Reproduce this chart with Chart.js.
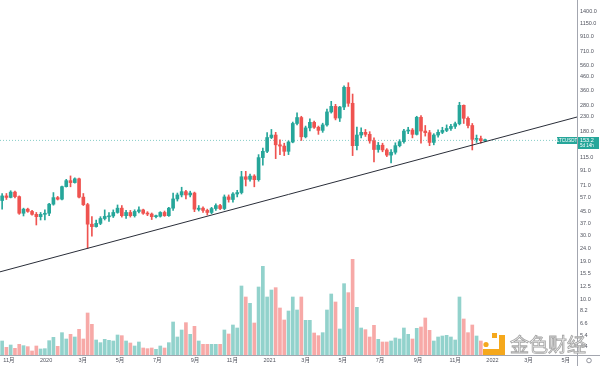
<!DOCTYPE html>
<html>
<head>
<meta charset="utf-8">
<script src="https://cdn.jsdelivr.net/npm/chart.js@4.4.1/dist/chart.umd.min.js"></script>
<style>
  html, body { margin: 0; padding: 0; background: #fff; }
  #wrap { width: 600px; height: 366px; position: relative; }
</style>
</head>
<body>
<div id="wrap"><canvas id="chart"></canvas></div>
<script>
// LTCUSDT 周线，从 2019-10-21 那一周开始
const startDate = '2019-10-21';
const symbol = 'LTCUSDT';
const lastPrice = 153.2;
const countdown = '5d 14h';

const opens = [
  54.5, 59, 57.5, 63, 58.3, 43.8, 47, 45.2, 43, 41.3,
  43, 43.8, 51.2, 57.3, 55.8, 69.2, 76.7, 74.2, 79.2, 57.8,
  50.8, 36.3, 34.8, 36.8, 40, 41.2, 41.8, 44.4, 47.8, 42,
  44.4, 42, 45.2, 46.4, 43.8, 43.2, 41.3, 41.6, 44.4, 42,
  47.8, 56, 60, 63.5, 60, 62, 46.8, 47.8, 46, 44.4,
  47.5, 50, 47.5, 58, 55.5, 61, 62.5, 82, 78.5, 83,
  78, 114, 127, 161, 168, 142, 139, 127, 149, 205,
  227, 163, 190, 209, 192, 182, 200, 250, 275, 225,
  272, 382, 290, 140, 168, 176, 170, 152, 131, 141,
  130, 119, 125, 140, 150, 180, 183, 170, 228, 180,
  175, 148, 168, 176, 182, 188, 195, 204, 280, 224,
  198, 156, 158, 152.5
];
const highs = [
  61.5, 61.5, 64.5, 64, 59, 47.8, 47.8, 46, 44.4, 44.4,
  46.4, 52, 62.5, 58.5, 70, 78.5, 83.2, 80.5, 80, 61.5,
  52, 41.3, 39, 41.3, 46.4, 44.4, 46.4, 50.5, 50, 46,
  46, 46.5, 49, 47, 45, 44, 42.5, 45, 45.5, 48.5,
  62, 62, 68.5, 65, 64, 63, 50, 49, 47, 48.5,
  51.5, 51, 60, 60, 62.5, 65, 90, 90, 86, 85,
  120, 134, 175, 185, 176, 155, 146, 152, 210, 246,
  232, 196, 222, 214, 196, 206, 262, 300, 285, 275,
  392, 413, 340, 193, 190, 185, 178, 160, 148, 146,
  133, 131, 147, 155, 185, 192, 188, 232, 235, 198,
  182, 172, 184, 192, 200, 202, 210, 295, 282, 230,
  205, 168, 165, 157
];
const lows = [
  47, 55.5, 57, 57, 43, 41.8, 44.5, 42.3, 35.8, 39,
  39, 42, 50.3, 55, 55, 68.7, 69, 73.5, 57, 50,
  24, 29.5, 34.5, 36, 39, 38, 40.7, 43.8, 41, 40,
  41, 41, 44, 43, 42, 39.3, 40.5, 41, 41.5, 41.5,
  46, 54, 58, 56, 58, 45, 45.5, 44.5, 42.5, 43.5,
  46, 46.5, 46.5, 53, 53, 58, 61, 70, 76, 69,
  76, 100, 124, 158, 112, 120, 118, 120, 147, 200,
  153, 160, 180, 188, 170, 176, 196, 245, 218, 212,
  260, 275, 118, 130, 160, 164, 146, 106, 125, 126,
  116, 104, 121, 137, 146, 172, 160, 168, 146, 165,
  140, 142, 162, 172, 178, 182, 188, 200, 205, 190,
  130, 148, 146, 150
];
const closes = [
  59, 57.5, 63, 58.3, 43.8, 47, 45.2, 43, 41.3, 43,
  43.8, 51.2, 57.3, 55.8, 69.2, 76.7, 74.2, 79.2, 57.8, 50.8,
  36.3, 34.8, 36.8, 40, 41.5, 41.8, 44.4, 47.8, 42, 44.4,
  42, 45.2, 46.4, 43.8, 43.2, 41.3, 41.6, 44.4, 42, 47.8,
  56, 60, 63.5, 60, 62, 47, 47.8, 46, 44.4, 47.5,
  50, 47.5, 58, 55.5, 61, 62.5, 82, 78.5, 83, 78,
  114, 127, 161, 168, 142, 139, 127, 149, 205, 227,
  163, 190, 209, 192, 182, 200, 250, 275, 225, 272,
  382, 290, 140, 168, 176, 170, 152, 131, 141, 130,
  119, 125, 140, 150, 180, 183, 170, 228, 180, 175,
  148, 168, 176, 182, 188, 195, 204, 280, 224, 198,
  156, 158, 152.5, 153.2
];
// 成交量（百万）
const volumes = [
  4.2, 2.3, 3.0, 2.0, 3.2, 2.8, 2.5, 1.2, 2.7, 1.8,
  1.9, 4.3, 5.3, 2.6, 6.7, 4.8, 6.2, 5.4, 7.7, 4.8,
  12.6, 9.2, 4.5, 3.7, 4.7, 4.4, 4.2, 6.0, 5.8, 4.2,
  3.6, 2.7, 3.9, 2.1, 1.9, 2.1, 1.7, 2.7, 2.1, 3.7,
  9.9, 5.4, 7.5, 9.7, 6.2, 8.6, 4.2, 3.2, 3.2, 3.2,
  3.2, 3.2, 7.5, 6.3, 9.0, 8.1, 20.7, 17.4, 15.5, 9.6,
  20.4, 26.6, 17.4, 19.5, 20.2, 14.1, 10.5, 13.2, 17.4, 13.5,
  17.4, 10.4, 10.4, 6.6, 5.8, 6.7, 13.5, 18.3, 15.9, 7.8,
  21.4, 18.7, 28.7, 14.3, 8.1, 7.6, 5.4, 8.9, 4.7, 3.9,
  3.9, 4.2, 5.1, 4.8, 8.1, 6.2, 4.8, 8.0, 8.4, 11.1,
  7.4, 4.2, 5.4, 5.7, 5.9, 5.4, 4.5, 17.4, 10.8, 6.7,
  9.0, 5.7, 4.2, 0.8
];

// 趋势线两端（周序号，价格）
const trendWeeks = [-0.5, 134.5];
const trendPrices = [16.0, 229];

const xTickDates = ['2019-11-01', '2020-01-01', '2020-03-01', '2020-05-01', '2020-07-01', '2020-09-01',
  '2020-11-01', '2021-01-01', '2021-03-01', '2021-05-01', '2021-07-01', '2021-09-01',
  '2021-11-01', '2022-01-01', '2022-03-01', '2022-05-01'];
const xTickLabels = ['11月', '2020', '3月', '5月', '7月', '9月', '11月', '2021', '3月', '5月', '7月', '9月', '11月', '2022', '3月', '5月'];
const yTickValues = [1400, 1150, 910, 710, 560, 460, 360, 280, 230, 180, 145, 115, 91, 71, 57, 45, 37, 30, 24, 19, 15.5, 12.5, 10, 8.2, 6.6, 5.4, 4.4];

const weekOf = d => (Date.parse(d) - Date.parse(startDate)) / (7 * 864e5);
const xTickWeeks = xTickDates.map(weekOf);

const idx = opens.map((_, i) => i);
const up = idx.map(i => closes[i] >= opens[i]);
const candleColor = idx.map(i => up[i] ? '#26a69a' : '#ef5350');
const volColor = idx.map(i => up[i] ? 'rgba(38,166,154,0.5)' : 'rgba(239,83,80,0.5)');

const xMin = -0.5, xMax = 134.5;

const overlay = {
  id: 'overlay',
  afterDraw(chart) {
    const { ctx, chartArea: a, scales: { y } } = chart;
    ctx.save();
    // 坐标轴分隔线
    ctx.strokeStyle = '#a3a6af';
    ctx.lineWidth = 1;
    ctx.beginPath();
    ctx.moveTo(a.right + 0.5, 0); ctx.lineTo(a.right + 0.5, chart.height);
    ctx.moveTo(0, a.bottom + 0.5); ctx.lineTo(chart.width, a.bottom + 0.5);
    ctx.stroke();

    // 最新价标签
    const py = Math.round(y.getPixelForValue(lastPrice));
    ctx.fillStyle = '#26a69a';
    ctx.fillRect(a.right - 20, py - 3, 20, 7);
    ctx.fillRect(a.right + 1, py - 3, 21, 12);
    ctx.fillStyle = '#fff';
    ctx.textBaseline = 'middle';
    ctx.textAlign = 'center';
    ctx.font = '4.5px "Liberation Sans"';
    ctx.fillText(symbol, a.right - 10, py + 0.5);
    ctx.textAlign = 'left';
    ctx.font = '5.5px "Liberation Sans"';
    ctx.fillText(lastPrice.toFixed(1), a.right + 3, py + 0.5);
    ctx.font = '4.5px "Liberation Sans"';
    ctx.fillText(countdown, a.right + 3, py + 6);

    // 设置图标
    ctx.strokeStyle = '#787b86';
    ctx.lineWidth = 0.8;
    ctx.beginPath();
    ctx.arc(589, 360.5, 2.3, 0, Math.PI * 2);
    ctx.stroke();

    // 水印
    ctx.fillStyle = '#f5a81c';
    ctx.fillRect(492, 333, 5, 5);
    ctx.beginPath(); ctx.arc(486, 344.5, 2.6, 0, Math.PI * 2); ctx.fill();
    ctx.fillRect(499, 335, 6, 20);
    ctx.fillRect(483, 349, 22, 6);
    ctx.font = '19px "Noto Sans CJK SC"';
    ctx.textAlign = 'left';
    ctx.textBaseline = 'middle';
    ctx.lineWidth = 0.9;
    ctx.fillStyle = 'rgba(255,255,255,0.85)';
    ctx.strokeStyle = 'rgba(150,150,150,0.85)';
    ctx.fillText('金色财经', 510, 345);
    ctx.strokeText('金色财经', 510, 345);
    ctx.restore();
  }
};

new Chart(document.getElementById('chart'), {
  type: 'bar',
  data: {
    datasets: [
      {
        type: 'line',
        data: trendWeeks.map((w, i) => ({ x: w, y: trendPrices[i] })),
        borderColor: '#2a2e39',
        borderWidth: 1,
        pointRadius: 0,
        yAxisID: 'y',
        order: 0
      },
      {
        data: idx.map(i => ({ x: i, y: [opens[i], closes[i]] })),
        backgroundColor: candleColor,
        barThickness: 3,
        minBarLength: 1,
        grouped: false,
        yAxisID: 'y',
        order: 1
      },
      {
        data: idx.map(i => ({ x: i, y: [lows[i], highs[i]] })),
        backgroundColor: candleColor,
        barThickness: 1,
        grouped: false,
        yAxisID: 'y',
        order: 2
      },
      {
        type: 'line',
        data: [{ x: xMin, y: lastPrice }, { x: xMax, y: lastPrice }],
        borderColor: 'rgba(38,166,154,0.55)',
        borderWidth: 1,
        borderDash: [1, 2],
        pointRadius: 0,
        yAxisID: 'y',
        order: 3
      },
      {
        data: idx.map(i => ({ x: i, y: volumes[i] })),
        backgroundColor: volColor,
        barThickness: 3,
        grouped: false,
        yAxisID: 'yv',
        order: 4
      }
    ]
  },
  options: {
    responsive: true,
    maintainAspectRatio: false,
    animation: false,
    layout: { padding: 0 },
    plugins: {
      legend: { display: false },
      tooltip: { enabled: false }
    },
    scales: {
      x: {
        type: 'linear',
        min: xMin,
        max: xMax,
        offset: false,
        grid: { display: false, drawTicks: false },
        border: { display: false },
        afterBuildTicks: s => { s.ticks = xTickWeeks.map(v => ({ value: v })); },
        afterFit: s => { s.height = 11; s.paddingLeft = 0; s.paddingRight = 0; },
        ticks: {
          autoSkip: false,
          maxRotation: 0,
          padding: 2,
          color: '#50535e',
          font: { size: 5.5, family: '"Liberation Sans", "Noto Sans CJK SC"' },
          callback: (v, i) => xTickLabels[i]
        }
      },
      y: {
        type: 'logarithmic',
        position: 'right',
        min: 3.83,
        max: 1712,
        grid: { display: false, drawTicks: false },
        border: { display: false },
        afterBuildTicks: s => { s.ticks = yTickValues.map(v => ({ value: v })); },
        afterFit: s => { s.width = 23; s.paddingTop = 0; s.paddingBottom = 0; },
        ticks: {
          autoSkip: false,
          padding: 3,
          color: '#50535e',
          font: { size: 5.5, family: '"Liberation Sans"' },
          callback: v => Number(v).toFixed(1)
        }
      },
      yv: {
        type: 'linear',
        display: false,
        min: 0,
        max: 106.5
      }
    }
  },
  plugins: [overlay]
});
</script>
</body>
</html>
